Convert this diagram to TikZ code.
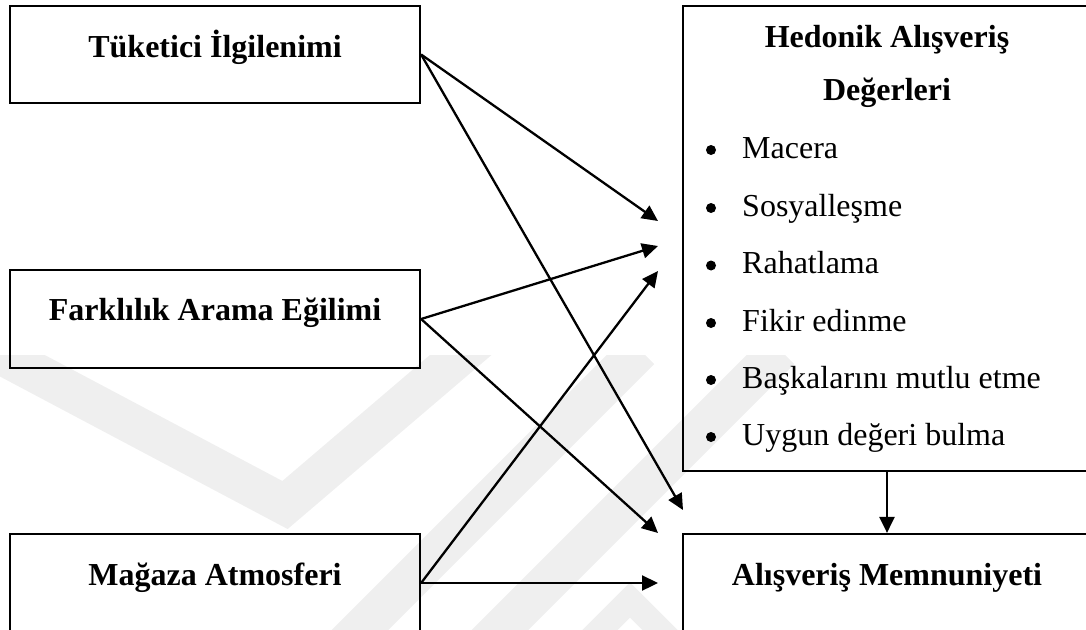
\documentclass[tikz,border=0pt]{standalone}
\usepackage{fontspec}
\setmainfont{Liberation Serif}
\usetikzlibrary{arrows.meta}
\definecolor{wmgray}{RGB}{239,239,239}
\begin{document}
\begin{tikzpicture}[x=1pt,y=-1pt,
  box/.style={draw, line width=2.2pt, inner sep=0pt},
  ttl/.style={font=\fontsize{32}{38}\selectfont\bfseries, anchor=base, inner sep=0pt},
  itm/.style={font=\fontsize{32}{38}\selectfont, anchor=base west, inner sep=0pt},
  bul/.style={circle, fill, inner sep=0pt, minimum size=10pt},
  arr/.style={line width=2.3pt, -{Triangle[length=16pt,width=15pt]}},
  wm/.style={draw=wmgray, line width=40pt}]
\useasboundingbox (0,0) rectangle (1086,629);
\clip (0,0) rectangle (1086,629);
% faint background watermark
\begin{scope}
  \clip (0,355) rectangle (1086,629);
  \draw[wm] (-30,338) -- (285,505) -- (490,330);
  \draw[wm] (330,660) -- (640,350);
  \draw[wm] (470,660) -- (780,350);
  \draw[wm, line width=25pt] (580,650) -- (630,600) -- (680,650);
\end{scope}
% boxes
\node[box, minimum width=410pt, minimum height=97pt] (t1) at (215,54.5) {};
\node[box, minimum width=410pt, minimum height=98pt] (t2) at (215,319) {};
\node[box, minimum width=410pt, minimum height=98pt] (t3) at (215,583) {};
\node[box, minimum width=408pt, minimum height=465pt] (H) at (887,238.5) {};
\node[box, minimum width=408pt, minimum height=98pt] (M) at (887,583) {};
% titles
\node[ttl] (t1t) at (215,57) {Tüketici İlgilenimi};
\node[ttl] (t2t) at (215,320) {Farklılık Arama Eğilimi};
\node[ttl] (t3t) at (215,585) {Mağaza Atmosferi};
\node[ttl] (Ht1) at (887,47) {Hedonik Alışveriş};
\node[ttl] (Ht2) at (887,100) {Değerleri};
\node[ttl] (Mt) at (887,585) {Alışveriş Memnuniyeti};
% list
\node[bul] (b1) at (711,150) {};
\node[itm] (i1) at (742,158) {Macera};
\node[bul] (b2) at (711,208) {};
\node[itm] (i2) at (742,216) {Sosyalleşme};
\node[bul] (b3) at (711,265.5) {};
\node[itm] (i3) at (742,273.5) {Rahatlama};
\node[bul] (b4) at (711,323) {};
\node[itm] (i4) at (742,331) {Fikir edinme};
\node[bul] (b5) at (711,380) {};
\node[itm] (i5) at (742,388) {Başkalarını mutlu etme};
\node[bul] (b6) at (711,437) {};
\node[itm] (i6) at (742,445) {Uygun değeri bulma};
% arrow ends
\coordinate (e1) at (658,221);
\coordinate (e2) at (683,510);
\coordinate (e3) at (658,246);
\coordinate (e4) at (658,533);
\coordinate (e5) at (658,271);
\coordinate (e6) at (658,583);
\draw[arr] (t1.east) -- (e1);
\draw[arr] (t1.east) -- (e2);
\draw[arr] (t2.east) -- (e3);
\draw[arr] (t2.east) -- (e4);
\draw[arr] (t3.east) -- (e5);
\draw[arr] (t3.east) -- (e6);
\draw[arr] (H.south) -- (M.north);
\end{tikzpicture}
\end{document}
